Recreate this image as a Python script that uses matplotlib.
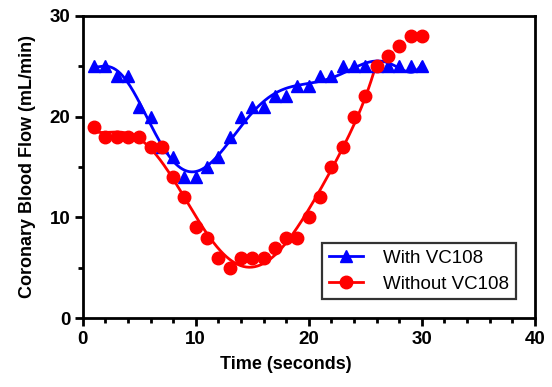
import numpy as np
import matplotlib
matplotlib.use("Agg")
import matplotlib.pyplot as plt

plt.rcParams['font.family'] = ['Liberation Sans', 'DejaVu Sans']

time_s = list(range(1, 31))
with_vc108 = [25, 25, 24, 24, 21, 20, 17, 16, 14, 14, 15, 16, 18, 20, 21,
              21, 22, 22, 23, 23, 24, 24, 25, 25, 25, 25, 25, 25, 25, 25]
without_vc108 = [19, 18, 18, 18, 18, 17, 17, 14, 12, 9, 8, 6, 5, 6, 6,
                 6, 7, 8, 8, 10, 12, 15, 17, 20, 22, 25, 26, 27, 28, 28]
labels = ["With VC108", "Without VC108"]

BLUE = "#0000FF"
RED = "#FF0000"

t = np.array(time_s, dtype=float)
yb = np.array(with_vc108, dtype=float)
yr = np.array(without_vc108, dtype=float)

fig = plt.figure(figsize=(5.52, 3.87), dpi=100)
ax = fig.add_axes([0.1498, 0.178, 0.969 - 0.1498, 0.959 - 0.178])

# smooth fitted curves (least-squares polynomial fit of the data)
def fit_curve(x, y, deg, x0, x1):
    xm, xs = x.mean(), x.std()
    c = np.polyfit((x - xm) / xs, y, deg)
    xx = np.linspace(x0, x1, 300)
    return xx, np.polyval(c, (xx - xm) / xs)

bx, by = fit_curve(t, yb, 8, 1, 30)
mask = t <= 26
rx, ry = fit_curve(t[mask], yr[mask], 6, 1, 26.0)

ax.plot(bx, by, color=BLUE, lw=2.0, zorder=2)
ax.plot(rx, ry, color=RED, lw=2.0, zorder=2)
ax.plot(t, yb, linestyle='none', marker='^', ms=9, color=BLUE, zorder=3)
ax.plot(t, yr, linestyle='none', marker='o', ms=9, color=RED, zorder=3)

# legend handles
hb, = ax.plot([], [], color=BLUE, lw=2.0, marker='^', ms=9, label=labels[0])
hr, = ax.plot([], [], color=RED, lw=2.0, marker='o', ms=9, label=labels[1])
leg = ax.legend(handles=[hb, hr], loc='lower right', bbox_to_anchor=(0.958, 0.063),
                frameon=True, fancybox=False, fontsize=13.5, handlelength=1.8,
                borderpad=0.35, labelspacing=0.45, handletextpad=1.1, borderaxespad=0)
leg.get_frame().set_edgecolor('black')
leg.get_frame().set_linewidth(1.6)

ax.set_xlim(0, 40)
ax.set_ylim(0, 30)
ax.set_xticks([0, 10, 20, 30, 40])
ax.set_xticks(np.arange(0, 41, 2), minor=True)
ax.set_yticks([0, 10, 20, 30])
ax.set_yticks(np.arange(0, 31, 5), minor=True)

for s in ax.spines.values():
    s.set_linewidth(2.0)
ax.tick_params(which='major', direction='out', length=6, width=2.0, labelsize=13.5, pad=3)
ax.tick_params(which='minor', direction='out', length=3.5, width=2.0)
for lab in ax.get_xticklabels() + ax.get_yticklabels():
    lab.set_fontweight('bold')

ax.set_xlabel("Time (seconds)", fontsize=13, fontweight='bold', labelpad=4)
ax.xaxis.set_label_coords(0.45, -0.125)
ax.set_ylabel("Coronary Blood Flow (mL/min)", fontsize=13, fontweight='bold', labelpad=10)

fig.savefig("out.png", dpi=100)
